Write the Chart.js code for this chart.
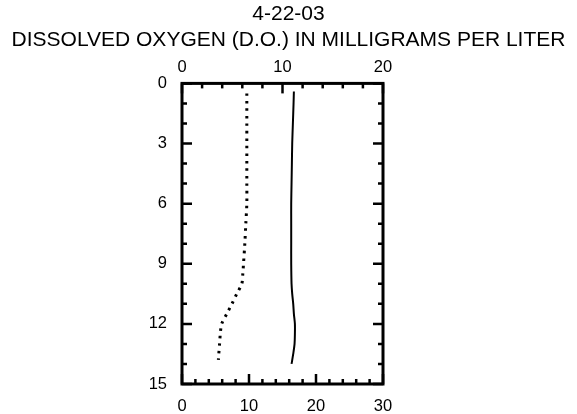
<!DOCTYPE html>
<html>
<head>
<meta charset="utf-8">
<script src="https://cdn.jsdelivr.net/npm/chart.js@4.4.1/dist/chart.umd.min.js"></script>
<style>
  html, body { margin: 0; padding: 0; background: #fff; }
  #wrap { width: 577px; height: 414px; }
</style>
</head>
<body>
<div id="wrap"><canvas id="c" width="577" height="414"></canvas></div>
<script>
// ---- data ----
const chartTitle = "4-22-03";
const chartSubtitle = "DISSOLVED OXYGEN (D.O.) IN MILLIGRAMS PER LITER";

// dissolved oxygen profile (top axis, mg/L) - dotted
const doDepth = [0.5, 1, 2, 3, 4, 5, 6, 7, 8, 9, 9.5, 10, 10.5, 11, 11.5, 12, 12.5, 13, 13.5, 13.8];
const doValue = [6.45, 6.45, 6.45, 6.45, 6.45, 6.45, 6.45, 6.35, 6.25, 6.12, 6.05, 5.95, 5.45, 4.97, 4.45, 3.95, 3.81, 3.74, 3.66, 3.62];

// water temperature profile (bottom axis) - solid
const tempDepth = [0.4, 1, 2, 3, 4, 5, 6, 7, 8, 9, 10, 10.5, 11, 11.5, 12, 12.5, 13, 13.5, 14];
const tempValue = [16.7, 16.65, 16.55, 16.45, 16.4, 16.35, 16.3, 16.3, 16.3, 16.3, 16.35, 16.45, 16.6, 16.7, 16.85, 16.85, 16.8, 16.6, 16.35];

// axis tick labels
const depthTicks = [0, 3, 6, 9, 12, 15];
const doTicks = [0, 10, 20];
const tempTicks = [0, 10, 20, 30];
const depthMinorStep = 1;
const doMinorStep = 2;
const tempMinorStep = 2;

const FONT = "'Liberation Sans', Arial, sans-serif";

const doPts = doDepth.map((d, i) => ({ x: doValue[i], y: d }));
const tempPts = tempDepth.map((d, i) => ({ x: tempValue[i], y: d }));

// plugin: frame + inward tick marks, positioned through the scales
const frameTicks = {
  id: 'frameTicks',
  afterDatasetsDraw(chart) {
    const { ctx, chartArea: a, scales } = chart;
    ctx.save();
    ctx.strokeStyle = '#000';
    ctx.lineCap = 'butt';
    ctx.lineWidth = 2.5;
    const minor = 5, major = 10;
    const ys = scales.y;
    for (let v = ys.min; v <= ys.max + 1e-9; v += depthMinorStep) {
      const p = ys.getPixelForValue(v);
      const len = depthTicks.includes(v) ? major : minor;
      ctx.beginPath();
      ctx.moveTo(a.left, p); ctx.lineTo(a.left + len, p);
      ctx.moveTo(a.right, p); ctx.lineTo(a.right - len, p);
      ctx.stroke();
    }
    const xt = scales.x2;
    for (let v = xt.min; v <= xt.max + 1e-9; v += doMinorStep) {
      const p = xt.getPixelForValue(v);
      const len = doTicks.includes(v) ? major : minor;
      ctx.beginPath();
      ctx.moveTo(p, a.top); ctx.lineTo(p, a.top + len);
      ctx.stroke();
    }
    const xb = scales.x;
    for (let v = xb.min; v <= xb.max + 1e-9; v += tempMinorStep) {
      const p = xb.getPixelForValue(v);
      const len = tempTicks.includes(v) ? major : minor;
      ctx.beginPath();
      ctx.moveTo(p, a.bottom); ctx.lineTo(p, a.bottom - len);
      ctx.stroke();
    }
    ctx.lineWidth = 3;
    ctx.strokeRect(a.left, a.top, a.right - a.left, a.bottom - a.top);
    ctx.restore();
  }
};

new Chart(document.getElementById('c'), {
  type: 'scatter',
  data: {
    datasets: [
      {
        label: 'D.O.',
        data: doPts,
        xAxisID: 'x2',
        yAxisID: 'y',
        showLine: true,
        borderColor: '#000',
        borderWidth: 3,
        borderDash: [2.5, 5],
        pointRadius: 0,
        tension: 0.3,
        fill: false
      },
      {
        label: 'Temperature',
        data: tempPts,
        xAxisID: 'x',
        yAxisID: 'y',
        showLine: true,
        borderColor: '#000',
        borderWidth: 2,
        pointRadius: 0,
        tension: 0.3,
        fill: false
      }
    ]
  },
  options: {
    responsive: false,
    animation: false,
    devicePixelRatio: 1,
    layout: { padding: 0 },
    plugins: {
      legend: { display: false },
      tooltip: { enabled: false },
      title: {
        display: true,
        text: chartTitle,
        color: '#000',
        font: { family: FONT, size: 21, weight: 'normal' },
        padding: { top: 2, bottom: 0 }
      },
      subtitle: {
        display: true,
        text: chartSubtitle,
        color: '#000',
        font: { family: FONT, size: 21, weight: 'normal' },
        padding: { top: 0, bottom: 0 }
      }
    },
    scales: {
      x: {
        type: 'linear',
        position: 'bottom',
        min: 0, max: 30,
        grid: { display: false, drawTicks: false },
        border: { display: false },
        ticks: {
          stepSize: 10,
          padding: 13,
          color: '#000',
          font: { family: FONT, size: 16.5 },
          callback: v => tempTicks.includes(v) ? String(v) : null
        },
        afterFit: s => { s.height = 30; }
      },
      x2: {
        type: 'linear',
        position: 'top',
        min: 0, max: 20,
        grid: { display: false, drawTicks: false },
        border: { display: false },
        ticks: {
          stepSize: 10,
          padding: 6,
          color: '#000',
          font: { family: FONT, size: 16.5 },
          callback: v => doTicks.includes(v) ? String(v) : null
        },
        afterFit: s => { s.height = 31; }
      },
      y: {
        type: 'linear',
        position: 'left',
        reverse: true,
        min: 0, max: 15,
        grid: { display: false, drawTicks: false },
        border: { display: false },
        ticks: {
          stepSize: 3,
          padding: 15,
          color: '#000',
          font: { family: FONT, size: 16.5 },
          callback: v => depthTicks.includes(v) ? String(v) : null
        },
        afterFit: s => { s.width = 182; }
      },
      yRight: {
        type: 'linear',
        position: 'right',
        reverse: true,
        min: 0, max: 15,
        grid: { display: false, drawTicks: false },
        border: { display: false },
        ticks: { display: false },
        afterFit: s => { s.width = 194; }
      }
    }
  },
  plugins: [frameTicks]
});
</script>
</body>
</html>
